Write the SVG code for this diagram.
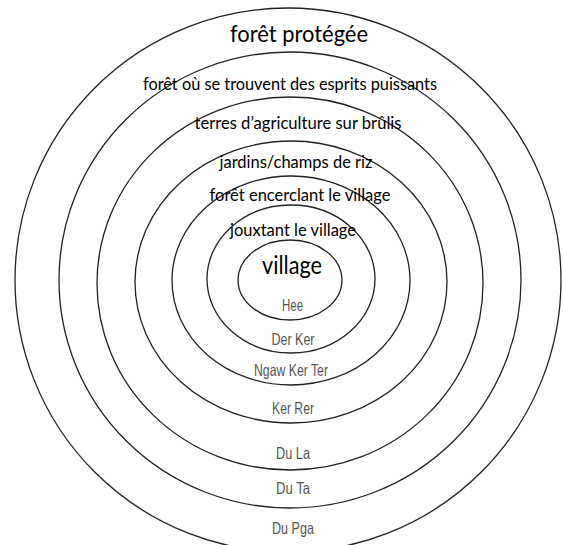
<svg xmlns="http://www.w3.org/2000/svg" width="563" height="545" viewBox="0 0 563 545">
<style>
.ring{fill:none;stroke:#222;stroke-width:1.3}
.fr{font-family:Lato,"Open Sans","Liberation Sans",sans-serif;fill:#000;text-anchor:middle}
.lo{font-family:"Liberation Sans",Arial,sans-serif;fill:#555;font-size:16.5px;text-anchor:middle}
</style>
<rect width="563" height="545" fill="#fff"/>
<g id="rings">
<ellipse id="ring7" class="ring" cx="288" cy="280" rx="273" ry="272"/>
<ellipse id="ring6" class="ring" cx="290" cy="280" rx="231" ry="228"/>
<ellipse id="ring5" class="ring" cx="290" cy="283.5" rx="193" ry="186.5"/>
<ellipse id="ring4" class="ring" cx="291" cy="282" rx="156" ry="141"/>
<ellipse id="ring3" class="ring" cx="291" cy="280.5" rx="119" ry="104.5"/>
<ellipse id="ring2" class="ring" cx="291" cy="279" rx="84" ry="74"/>
<ellipse id="ring1" class="ring" cx="290" cy="280" rx="52" ry="40"/>
</g>
<g id="labels-fr">
<text class="fr" x="299" y="42" font-size="24" textLength="138" lengthAdjust="spacingAndGlyphs">forêt protégée</text>
<text class="fr" x="290" y="90" font-size="16.5" textLength="294" lengthAdjust="spacingAndGlyphs">forêt où se trouvent des esprits puissants</text>
<text class="fr" x="298" y="129" font-size="16.5" textLength="207" lengthAdjust="spacingAndGlyphs">terres d’agriculture sur brûlis</text>
<text class="fr" x="296" y="168" font-size="16.5" textLength="153" lengthAdjust="spacingAndGlyphs">jardins/champs de riz</text>
<text class="fr" x="300" y="201" font-size="16.5" textLength="181" lengthAdjust="spacingAndGlyphs">forêt encerclant le village</text>
<text class="fr" x="293" y="236" font-size="16.5" textLength="126" lengthAdjust="spacingAndGlyphs">jouxtant le village</text>
<text class="fr" x="292" y="274" font-size="25" textLength="60" lengthAdjust="spacingAndGlyphs">village</text>
</g>
<g id="labels-local">
<text class="lo" x="292.5" y="311" textLength="21" lengthAdjust="spacingAndGlyphs">Hee</text>
<text class="lo" x="293" y="345" textLength="43" lengthAdjust="spacingAndGlyphs">Der Ker</text>
<text class="lo" x="291" y="376" textLength="74" lengthAdjust="spacingAndGlyphs">Ngaw Ker Ter</text>
<text class="lo" x="293" y="414" textLength="42" lengthAdjust="spacingAndGlyphs">Ker Rer</text>
<text class="lo" x="293" y="459" textLength="34" lengthAdjust="spacingAndGlyphs">Du La</text>
<text class="lo" x="293" y="494" textLength="34" lengthAdjust="spacingAndGlyphs">Du Ta</text>
<text class="lo" x="293" y="534" textLength="42" lengthAdjust="spacingAndGlyphs">Du Pga</text>
</g>
</svg>
